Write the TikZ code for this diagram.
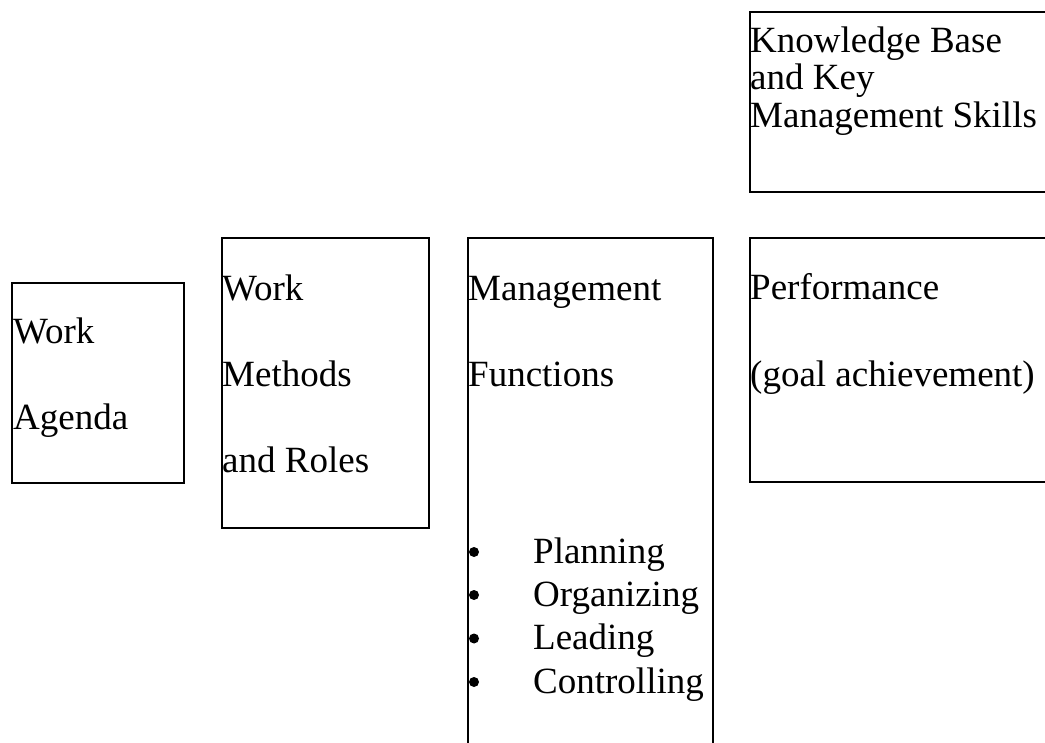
\documentclass[tikz,border=0pt]{standalone}
\usepackage{fontspec}
\setmainfont{Liberation Serif}
\usetikzlibrary{positioning}

\tikzset{
  box/.style={draw, line width=2pt, rectangle, anchor=north west, inner sep=0pt},
  txt/.style={anchor=base west, inner sep=0pt, font=\fontsize{37}{40}\selectfont},
  itemdot/.style={circle, fill, inner sep=0pt, minimum size=10}
}

\begin{document}
\begin{tikzpicture}[x=1pt,y=-1pt]
            \useasboundingbox (0,0) rectangle (1045,743);
            \clip (0,0) rectangle (1045,743);
            % the five boxes (two of them run past the edge)
            \node[box, minimum width=172, minimum height=200] (agenda) at (11,282) {};
            \node[box, minimum width=207, minimum height=290] (methods) at (221,237) {};
            \node[box, minimum width=245, minimum height=530] (functions) at (467,237) {};
            \node[box, minimum width=320, minimum height=244] (performance) at (749,237) {};
            \node[box, minimum width=320, minimum height=180] (knowledge) at (749,11) {};
            % box texts
            \node[txt] (agendaA) at (13,344) {Work};
            \node[txt] (agendaB) at (13,429) {Agenda};
            \node[txt] (methodsA) at (222,301) {Work};
            \node[txt] (methodsB) at (222,387) {Methods};
            \node[txt] (methodsC) at (222,472) {and Roles};
            \node[txt] (functionsA) at (468,301) {Management};
            \node[txt] (functionsB) at (468,387) {Functions};
            \node[txt] (performanceA) at (750,300) {Performance};
            \node[txt] (performanceB) at (750,387) {(goal achievement)};
            \node[txt] (knowledgeA) at (750,53) {Knowledge Base};
            \node[txt] (knowledgeB) at (750,90) {and Key};
            \node[txt] (knowledgeC) at (750,128) {Management Skills};
            % the four functions
            \foreach \name/\word/\y in {plan/Planning/563,org/Organizing/606,lead/Leading/649.5,ctrl/Controlling/693}{
                \node[itemdot] (\name dot) at (474,\y-11) {};
                \node[txt] (\name) at (533,\y) {\word};
            }
        \end{tikzpicture}
\end{document}
